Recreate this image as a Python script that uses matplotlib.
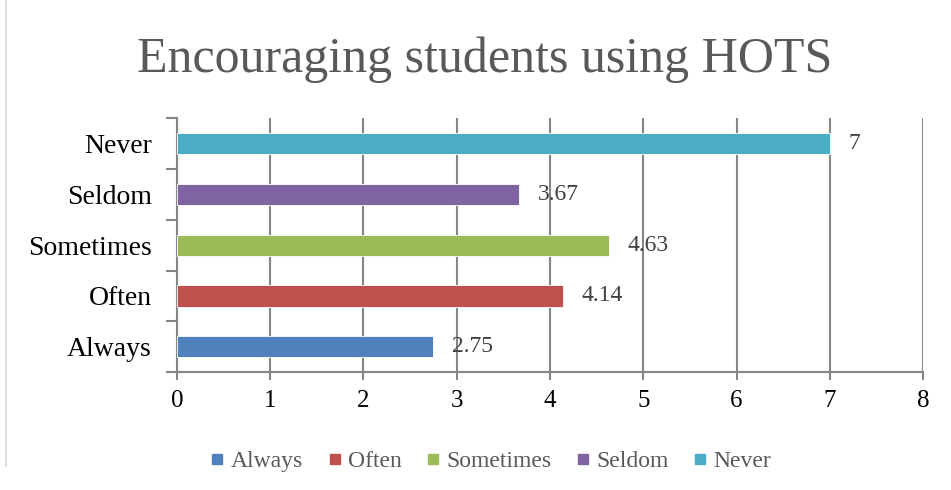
import numpy as np
import matplotlib
matplotlib.use("Agg")
from matplotlib import pyplot as plt
from matplotlib.lines import Line2D

# data
categories = ['Always', 'Often', 'Sometimes', 'Seldom', 'Never']
values = [2.75, 4.14, 4.63, 3.67, 7]
value_labels = ['2.75', '4.14', '4.63', '3.67', '7']
colors = ['#4F81BD', '#C0504D', '#9BBB59', '#8064A2', '#4BACC6']
x_ticks = [0, 1, 2, 3, 4, 5, 6, 7, 8]

plt.rcParams['font.family'] = ['Liberation Serif', 'DejaVu Serif']
grid_col = '#868686'

fig = plt.figure(figsize=(9.51, 4.90), dpi=100)
ax = fig.add_axes([0.1861, 0.2408, 0.7845, 0.5174])

y = np.arange(len(categories))
ax.barh(y, values, height=0.42, color=colors, edgecolor='white', linewidth=0.6, zorder=3)

#value labels just past the bar ends
for yi, v, lab in zip(y, values, value_labels):
    ax.text(v + 0.2, yi, lab, va='center', ha='left', fontsize=17, color='#404040', zorder=4)

ax.set_xlim(0, 8)
ax.set_ylim(-0.5, 4.5)
ax.set_xticks(x_ticks)
ax.set_xticklabels([str(t) for t in x_ticks], fontsize=18, color='black')
ax.set_yticks(y)
ax.set_yticklabels(categories, fontsize=20, color='black')
ax.set_yticks(np.arange(-0.5, 5.0, 1.0), minor=True)

ax.tick_params(axis='y', which='major', length=0, pad=18)
ax.tick_params(axis='y', which='minor', length=8, width=1.5, color=grid_col, direction='out')
ax.tick_params(axis='x', length=6, width=1.5, color=grid_col, direction='out', pad=7)

ax.grid(axis='x', color=grid_col, linewidth=1.5, zorder=0)
ax.set_axisbelow(True)
for s in ['top', 'right']:
    ax.spines[s].set_visible(False)
for s in ['left', 'bottom']:
    ax.spines[s].set_color(grid_col)
    ax.spines[s].set_linewidth(1.5)

fig.text(0.51, 0.878, 'Encouraging students using HOTS', ha='center', va='center',
         fontsize=36, color='#595959')

handles = [Line2D([0], [0], marker='s', linestyle='none', markersize=7,
                  markerfacecolor=c, markeredgecolor=c) for c in colors]
fig.legend(handles, categories, loc='center', bbox_to_anchor=(0.516, 0.058), ncol=5,
           frameon=False, fontsize=17, labelcolor='#595959', handlelength=0.6,
           handletextpad=0.25, columnspacing=1.05)

# light frame line at left edge
fig.add_artist(Line2D([0.006, 0.006], [0.05, 1.0], color='#D9D9D9', linewidth=1.2,
                      transform=fig.transFigure))

fig.savefig('out.png', dpi=100)
